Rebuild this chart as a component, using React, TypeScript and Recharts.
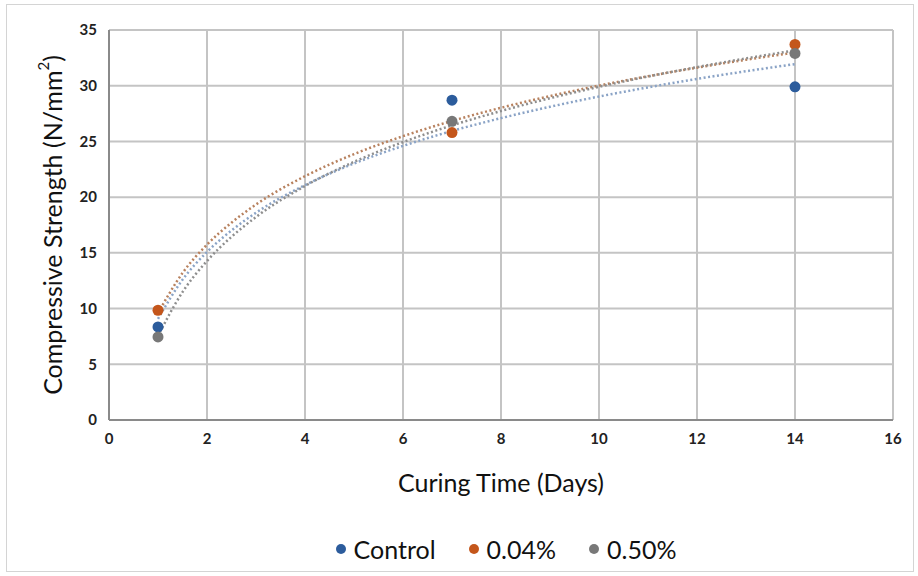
import React from "react";
import { ComposedChart, Scatter, Line, XAxis, YAxis, CartesianGrid } from "recharts";

const curingDays = [1, 7, 14];
const controlValues = [8.35, 28.7, 29.9];
const pct004Values = [9.85, 25.8, 33.7];
const pct050Values = [7.45, 26.8, 32.9];

const trendDays = [1, 1.5, 2, 2.5, 3, 4, 5, 6, 7, 8, 9, 10, 11, 12, 13, 14];
const controlTrend = [9.08, 12.59, 15.08, 17.01, 18.6, 21.08, 23.02, 24.6, 25.94, 27.09, 28.11, 29.03, 29.85, 30.61, 31.3, 31.94];
const pct004Trend = [9.6, 13.19, 15.74, 17.71, 19.34, 21.88, 23.86, 25.47, 26.84, 28.02, 29.07, 30.01, 30.85, 31.62, 32.33, 32.98];
const pct050Trend = [7.55, 11.48, 14.27, 16.44, 18.22, 21.0, 23.17, 24.94, 26.44, 27.73, 28.88, 29.9, 30.83, 31.67, 32.45, 33.17];

const xTicks = [0, 2, 4, 6, 8, 10, 12, 14, 16];
const yTicks = [0, 5, 10, 15, 20, 25, 30, 35];

const seriesNames = ["Control", "0.04%", "0.50%"];
const colors = ["#2c5c9c", "#c4561b", "#787878"];
const trendColors = ["#8aa3c6", "#b8825f", "#8e8e8e"];

const toPoints = (xs: number[], ys: number[]) => xs.map((x, i) => ({ x, y: ys[i] }));

const FONT = "Lato, 'Open Sans', sans-serif";

const LegendBox = () => (
  <div style={{ position: "absolute", left: 94, top: 534, width: 824, height: 30, display: "flex", justifyContent: "center", alignItems: "center", fontFamily: FONT, fontSize: 25, color: "#111" }}>
    {seriesNames.map((n, i) => (
      <div key={n} style={{ display: "flex", alignItems: "center", marginRight: i < 2 ? 33 : 0 }}>
        <span style={{ display: "inline-block", width: 10, height: 10, borderRadius: 5, background: colors[i], marginRight: 8 }} />
        <span>{n}</span>
      </div>
    ))}
  </div>
);

const YTitle = () => (
  <text x={52} y={225} transform="rotate(-90 52 225)" textAnchor="middle" dominantBaseline="central" fontFamily={FONT} fontSize={25} fill="#111">
    Compressive Strength (N/mm<tspan dy={-9} fontSize={15}>2</tspan><tspan dy={9}>)</tspan>
  </text>
);

const XTitle = () => (
  <text x={501} y={482} textAnchor="middle" dominantBaseline="central" fontFamily={FONT} fontSize={25} fill="#111">
    Curing Time (Days)
  </text>
);

export default function App() {
  const scatterSets = [controlValues, pct004Values, pct050Values].map((v) => toPoints(curingDays, v));
  const trendSets = [controlTrend, pct004Trend, pct050Trend].map((v) => toPoints(trendDays, v));
  return (
    <div style={{ position: "absolute", left: 0, top: 0, width: 918, height: 576, background: "#fff" }}>
      <div style={{ position: "absolute", left: 6, top: 4, width: 908, height: 568, border: "1px solid #d4d4d4", boxSizing: "border-box" }} />
      <ComposedChart width={918} height={576} margin={{ top: 30, right: 25, left: 0, bottom: 126 }}>
        <CartesianGrid stroke="#c4c4c4" strokeWidth={2} />
        <XAxis
          type="number"
          dataKey="x"
          domain={[0, 16]}
          ticks={xTicks}
          height={30}
          tickSize={0}
          tickMargin={13}
          axisLine={{ stroke: "#8a8a8a", strokeWidth: 2 }}
          tick={{ fontFamily: FONT, fontSize: 15, fontWeight: 700, fill: "#222" }}
          allowDataOverflow
        />
        <YAxis
          type="number"
          dataKey="y"
          domain={[0, 35]}
          ticks={yTicks}
          width={109}
          tickSize={0}
          tickMargin={12}
          axisLine={{ stroke: "#8a8a8a", strokeWidth: 2 }}
          tick={{ fontFamily: FONT, fontSize: 15, fontWeight: 700, fill: "#222" }}
        />
        {trendSets.map((d, i) => (
          <Line
            key={"t" + i}
            data={d}
            dataKey="y"
            type="monotone"
            stroke={trendColors[i]}
            strokeWidth={2.5}
            strokeDasharray="2 2.5"
            dot={false}
            activeDot={false}
            legendType="none"
            isAnimationActive={false}
          />
        ))}
        {scatterSets.map((d, i) => (
          <Scatter
            key={"s" + i}
            name={seriesNames[i]}
            data={d}
            dataKey="y"
            fill={colors[i]}
            shape={(p: any) => <circle cx={p.cx} cy={p.cy} r={5.5} fill={colors[i]} />}
            isAnimationActive={false}
          />
        ))}
        <YTitle />
        <XTitle />
      </ComposedChart>
      <LegendBox />
    </div>
  );
}
